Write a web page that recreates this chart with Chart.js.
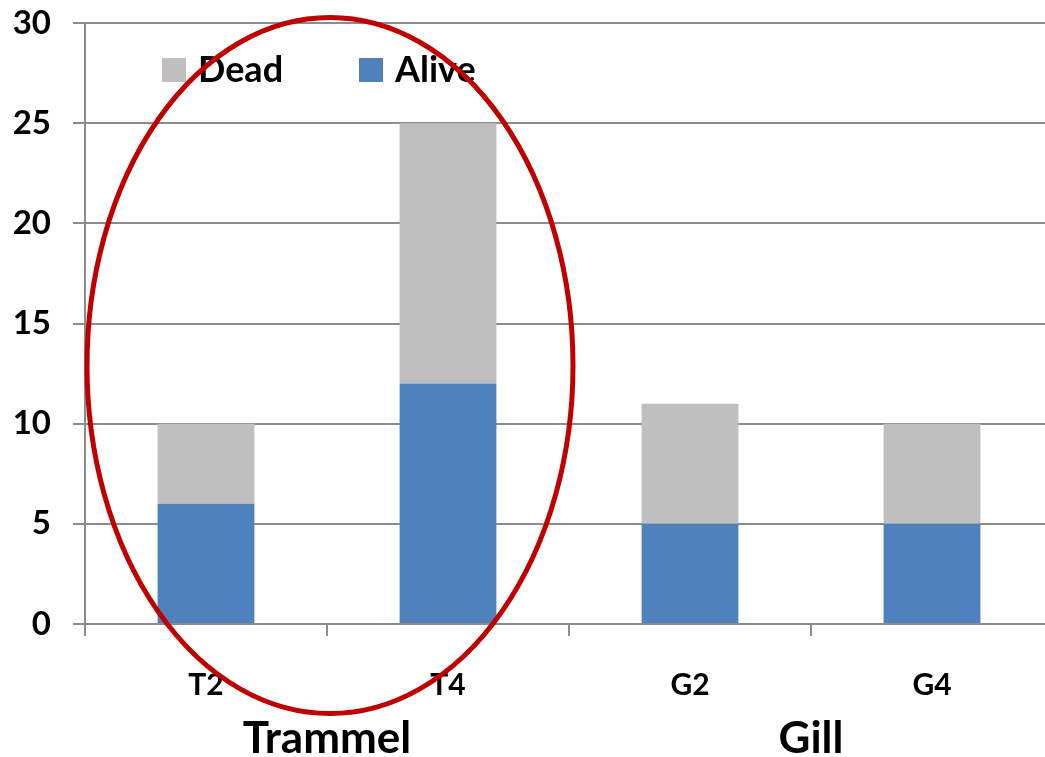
<!DOCTYPE html>
<html>
<head>
<meta charset="utf-8">
<script src="https://cdn.jsdelivr.net/npm/chart.js@4/dist/chart.umd.min.js"></script>
<style>
  html, body { margin: 0; padding: 0; background: #ffffff; overflow: hidden; }
  #wrap { width: 1045px; height: 757px; overflow: hidden; }
  canvas { display: block; }
</style>
</head>
<body>
<div id="wrap"><canvas id="c" width="1053" height="757"></canvas></div>
<script>
// Catch counts per net type
const categories = ['T2', 'T4', 'G2', 'G4'];
const alive = [6, 12, 5, 5];
const dead = [4, 13, 6, 5];
const groups = [
  { label: 'Trammel', from: 0, to: 1 },
  { label: 'Gill', from: 2, to: 3 }
];
const yTicks = [0, 5, 10, 15, 20, 25, 30];

const FONT = 'Lato, "Open Sans", "DejaVu Sans", sans-serif';
const BLUE = '#4F81BD';
const GREY = '#BFBFBF';
const AXIS = '#8C8C8C';

// Legend drawn inside the plot, top left
const insideLegend = {
  id: 'insideLegend',
  afterDatasetsDraw(chart) {
    const ctx = chart.ctx;
    const items = [chart.data.datasets[1], chart.data.datasets[0]];
    const xs = [162, 359];
    ctx.save();
    ctx.font = 'bold 36px ' + FONT;
    ctx.textBaseline = 'middle';
    ctx.textAlign = 'left';
    items.forEach((ds, i) => {
      ctx.fillStyle = ds.backgroundColor;
      ctx.fillRect(xs[i], 58, 24, 24);
      ctx.fillStyle = '#000';
      ctx.fillText(ds.label, xs[i] + 36, 70);
    });
    ctx.restore();
  }
};

// Group captions under the category labels, plus the highlight ring
const groupsAndRing = {
  id: 'groupsAndRing',
  afterDraw(chart) {
    const ctx = chart.ctx;
    const x = chart.scales.x;
    const y = chart.scales.y;
    ctx.save();
    ctx.font = 'bold 44px ' + FONT;
    ctx.fillStyle = '#000';
    ctx.textAlign = 'center';
    ctx.textBaseline = 'middle';
    groups.forEach(g => {
      const cx = (x.getPixelForValue(g.from) + x.getPixelForValue(g.to)) / 2;
      ctx.fillText(g.label, cx, 739);
    });

    // ring around the Trammel group
    const step = x.getPixelForValue(1) - x.getPixelForValue(0);
    const cx = (x.getPixelForValue(0) + x.getPixelForValue(1)) / 2 + 3;
    const cy = y.getPixelForValue(12.9);
    ctx.beginPath();
    ctx.ellipse(cx, cy, step + 1, 348, 0, 0, Math.PI * 2);
    ctx.lineWidth = 5;
    ctx.strokeStyle = '#C00000';
    ctx.stroke();
    ctx.restore();
  }
};

new Chart(document.getElementById('c'), {
  type: 'bar',
  data: {
    labels: categories,
    datasets: [
      { label: 'Alive', data: alive, backgroundColor: BLUE, barPercentage: 0.4, categoryPercentage: 1 },
      { label: 'Dead', data: dead, backgroundColor: GREY, barPercentage: 0.4, categoryPercentage: 1 }
    ]
  },
  options: {
    responsive: false,
    animation: false,
    layout: { padding: { top: 23, right: 0, left: 0, bottom: 0 } },
    plugins: { legend: { display: false }, tooltip: { enabled: false } },
    scales: {
      x: {
        stacked: true,
        offset: true,
        grid: { display: true, drawOnChartArea: false, drawTicks: true, tickLength: 12, color: AXIS, lineWidth: 2, offset: true },
        border: { display: true, color: AXIS, width: 2 },
        ticks: { color: '#000', font: { family: FONT, size: 30, weight: 'bold' }, padding: 31 },
        afterFit(scale) { scale.height = 133; scale.paddingLeft = 0; scale.paddingRight = 0; }
      },
      y: {
        stacked: true,
        min: 0,
        max: 30,
        afterBuildTicks(scale) { scale.ticks = yTicks.map(v => ({ value: v })); },
        grid: { color: AXIS, lineWidth: 2, tickLength: 12 },
        border: { display: true, color: AXIS, width: 2 },
        ticks: { color: '#000', font: { family: FONT, size: 33, weight: 'bold' }, padding: 22 },
        afterFit(scale) { scale.width = 85; scale.paddingTop = 0; scale.paddingBottom = 0; }
      }
    }
  },
  plugins: [insideLegend, groupsAndRing]
});
</script>
</body>
</html>
